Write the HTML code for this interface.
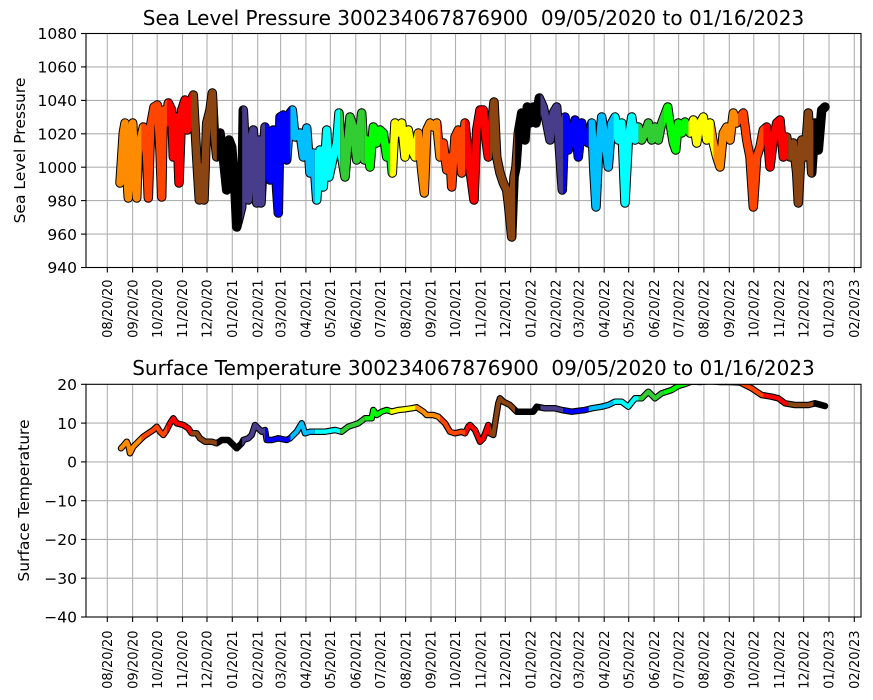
<!DOCTYPE html>
<html>
<head>
<meta charset="utf-8">
<style>
html,body{margin:0;padding:0;background:#fff;}
svg{display:block;}
text{font-family:"DejaVu Sans","Liberation Sans",sans-serif;fill:#000;}
.tt{font-size:20px;white-space:pre;}
.yl{font-size:15.5px;}
.yt{font-size:15.5px;}
.xt{font-size:13px;}
</style>
</head>
<body>
<svg width="873" height="700" viewBox="0 0 873 700" xmlns="http://www.w3.org/2000/svg">
<rect x="0" y="0" width="873" height="700" fill="#fff"/>
<defs>
<clipPath id="axT"><rect x="86" y="33.5" width="775" height="234"/></clipPath>
<clipPath id="axB"><rect x="86" y="384.3" width="775" height="232.7"/></clipPath>
<clipPath id="cDO"><rect x="0" y="0" width="141.6" height="700"/><rect x="415.4" y="0" width="24.6" height="700"/><rect x="713.7" y="0" width="24.6" height="700"/></clipPath>
<clipPath id="cOR"><rect x="141.6" y="0" width="25.4" height="700"/><rect x="440" y="0" width="25.3" height="700"/><rect x="738.3" y="0" width="25.3" height="700"/></clipPath>
<clipPath id="cR"><rect x="167" y="0" width="24.5" height="700"/><rect x="465.3" y="0" width="24.5" height="700"/><rect x="763.6" y="0" width="24.5" height="700"/></clipPath>
<clipPath id="cBR"><rect x="191.5" y="0" width="25.3" height="700"/><rect x="489.8" y="0" width="25.3" height="700"/><rect x="788.1" y="0" width="25.3" height="700"/></clipPath>
<clipPath id="cDS"><rect x="242.2" y="0" width="22.8" height="700"/><rect x="540.5" y="0" width="22.8" height="700"/></clipPath>
<clipPath id="cB"><rect x="265" y="0" width="25.4" height="700"/><rect x="563.3" y="0" width="25.4" height="700"/></clipPath>
<clipPath id="cDSB"><rect x="290.4" y="0" width="24.5" height="700"/><rect x="588.7" y="0" width="24.5" height="700"/></clipPath>
<clipPath id="cC"><rect x="314.9" y="0" width="25.3" height="700"/><rect x="613.2" y="0" width="25.4" height="700"/></clipPath>
<clipPath id="cLG"><rect x="340.2" y="0" width="24.6" height="700"/><rect x="638.6" y="0" width="24.5" height="700"/></clipPath>
<clipPath id="cL"><rect x="364.8" y="0" width="25.3" height="700"/><rect x="663.1" y="0" width="25.3" height="700"/></clipPath>
<clipPath id="cY"><rect x="390.1" y="0" width="25.3" height="700"/><rect x="688.4" y="0" width="25.3" height="700"/></clipPath>

<path id="pT" fill="none" stroke-linejoin="round" stroke-linecap="round" d="M120,183 L123.3,133 125,123 126.7,173 128.3,198 130.7,157 132.7,123 134.3,157 136.7,198 138.3,150 141,137
143.3,127 146.7,157 148.3,198 150.7,125 154,107 157.3,105 160,150 161.7,197 163.3,110 166,123
168.3,103 171.7,110 173.3,157 176.7,117 179,183 181.7,110 185,100 187.3,130 190,103
193.3,95 196.7,157 199.3,200 201.7,167 204,200 206.7,123 210,110 212.3,93 214.3,133 216.7,157
220,133 223.3,157 226.7,190 229,140 231.7,147 235,190 236.7,227 239.3,217 241.7,207
243.3,110 245.7,157 248.3,200 250.7,140 253.3,130 256.7,203 259,140 261,203 265,127
270,180 273.3,130 276.7,190 278.3,213 280,117 283.3,115 286.7,160 290,113
292.3,110 295,137 300,133 303.3,157 306.7,128 310,173 313.3,153
316.7,200 320,150 323.3,187 326.7,130 329,177 333.3,157 336.7,143 339,113
341.7,157 345,177 350,117 353.3,127 356.7,160 361.7,113 364.3,160
366.7,140 370,167 373.3,127 376.7,143 380,130 383.3,133 386.7,157 390,147
392.3,173 395,123 398.3,133 401.7,123 405,157 408.3,130 411.7,150
415,157 418.3,133 421.7,170 424.3,193 426.7,130 430,123 433.3,127 436.7,123 440,157
443.3,143 446.7,170 450,157 451.7,187 455,137 458.3,130 461.7,173
465,123 468.3,157 471.7,183 474,200 476.7,130 480,110 483.3,110 486,140
488.3,157 491.7,123 494,102 496.7,157 500,173 503.3,183 506.7,190 508.3,203 511.7,237 514,177
516,167 518.3,133 521.7,113 525,140 527.3,107 530,123 533.3,107 536,123
539.3,98 543.3,107 546.7,123 550,140 553.3,113 556.7,107 560,157 562.3,190
565,117 568.3,150 571.7,133 575,120 578.3,157 581.7,123 585,140 588.3,143
591.7,123 594,173 596,207 598.3,157 601.7,117 605,140 608.3,167
611.7,123 615,117 618.3,140 621.7,123 625,203 628.3,140 631.7,117
635,140 638.3,127 641.7,140 645,133 648.3,123 651.7,140 655,127 658.3,140 661.7,123
667.7,107 670,123 673.3,143 675.7,150 678.3,123 681.7,133 685,122
690,133 693.3,120 696.7,143 700,123 703.3,117 706.7,140 710,123
713.3,143 716.7,157 720,167 723.3,133 726.7,127 730,140 733.3,113 736.7,123
740,117 743.3,113 746.7,140 750,157 753.3,207 756.7,157 760,147
763.3,130 766.7,127 770,167 773.3,140 776.7,123 780,120 783.3,157
786.7,137 790,157 793.3,143 796.7,173 798.3,203 801.7,140 805,157 808.3,113 811.7,173
815,123 818.3,150 821.7,110 825,107"/>

<path id="pB" fill="none" stroke-linejoin="round" stroke-linecap="round" d="M121,448.3 L124,445 126.7,441.7 128.3,445 130,453.3 133.3,446.7 138.3,441.7 143.3,436.7 148.3,433.3 153.3,430 156.7,426.7 160,431.7 163.3,435 166.7,430 170,423.3 173.3,418.3 176.7,423.3 183.3,425 188.3,428.3 191.7,433.3 196.7,433.3 200,438.3 205,441.7 211.7,441.7 216.7,443.3 221.7,440 228.3,440 231.7,443.3 236.7,448.3 241.7,443.3 243.3,440 248.3,438.3 251.7,435 255,425 258.3,428.3 261.7,431.7 265,430 266.7,440 271.7,440 278.3,438.3 286.7,440 290,438.3 296.7,431.7 301.7,423.3 305,433.3 310,431.7 315,431.7 325,431.7 335,430 341.7,431.7 348.3,426.7 358.3,423.3 365,418.3 371.7,418.3 373.3,410 376.7,415 381.7,411.7 386.7,410 391.7,411.7 398.3,410 405,409.3 411.7,408.3 416.7,407.3 423.3,411.7 426.7,415 433.3,415 438.3,416.7 445,423.3 450,431.7 455,433.3 461.7,431.7 465,433.3 468.3,426.7 470,425 475,430 480,441.7 483.3,438.3 488.3,425 490,433.3 493.3,435 496.7,413.3 498.3,403.3 500,398.3 503.3,401.7 506.7,403.3 510,405 513.3,408.3 516.7,411.7 525,411.7 533.3,411.7 536.7,406.7 545,408.3 555,408.3 561.7,410 571.7,411.7 585,410 591.7,408.3 601.7,406.7 608.3,405 615,401.7 621.7,401.7 628.3,406.7 635,398.3 641.7,398.3 648.3,391.7 655,398.3 661.7,393.3 671.7,390 678.3,386 685,384 692,381.5 700,382 710,381 720,382 730,382 740,382.5 751.7,388.3 761.7,395 771.7,396.7 778.3,398.3 785,403.3 795,405 808.3,405 815,403.3 825,406"/>
</defs>

<!-- ============ TOP AXES ============ -->
<g stroke="#b0b0b0" stroke-width="1.1">
<line x1="107.3" y1="33.5" x2="107.3" y2="267.5"/><line x1="132.6" y1="33.5" x2="132.6" y2="267.5"/><line x1="157.2" y1="33.5" x2="157.2" y2="267.5"/><line x1="182.5" y1="33.5" x2="182.5" y2="267.5"/><line x1="207" y1="33.5" x2="207" y2="267.5"/><line x1="232.3" y1="33.5" x2="232.3" y2="267.5"/><line x1="257.7" y1="33.5" x2="257.7" y2="267.5"/><line x1="280.6" y1="33.5" x2="280.6" y2="267.5"/><line x1="305.9" y1="33.5" x2="305.9" y2="267.5"/><line x1="330.4" y1="33.5" x2="330.4" y2="267.5"/><line x1="355.8" y1="33.5" x2="355.8" y2="267.5"/><line x1="380.3" y1="33.5" x2="380.3" y2="267.5"/><line x1="405.6" y1="33.5" x2="405.6" y2="267.5"/><line x1="431" y1="33.5" x2="431" y2="267.5"/><line x1="455.5" y1="33.5" x2="455.5" y2="267.5"/><line x1="480.8" y1="33.5" x2="480.8" y2="267.5"/><line x1="505.3" y1="33.5" x2="505.3" y2="267.5"/><line x1="530.7" y1="33.5" x2="530.7" y2="267.5"/><line x1="556" y1="33.5" x2="556" y2="267.5"/><line x1="578.9" y1="33.5" x2="578.9" y2="267.5"/><line x1="604.2" y1="33.5" x2="604.2" y2="267.5"/><line x1="628.7" y1="33.5" x2="628.7" y2="267.5"/><line x1="654.1" y1="33.5" x2="654.1" y2="267.5"/><line x1="678.6" y1="33.5" x2="678.6" y2="267.5"/><line x1="703.9" y1="33.5" x2="703.9" y2="267.5"/><line x1="729.3" y1="33.5" x2="729.3" y2="267.5"/><line x1="753.8" y1="33.5" x2="753.8" y2="267.5"/><line x1="779.1" y1="33.5" x2="779.1" y2="267.5"/><line x1="803.6" y1="33.5" x2="803.6" y2="267.5"/><line x1="829" y1="33.5" x2="829" y2="267.5"/><line x1="854.3" y1="33.5" x2="854.3" y2="267.5"/>
<line x1="86" y1="66.9" x2="861" y2="66.9"/><line x1="86" y1="100.4" x2="861" y2="100.4"/><line x1="86" y1="133.8" x2="861" y2="133.8"/><line x1="86" y1="167.2" x2="861" y2="167.2"/><line x1="86" y1="200.6" x2="861" y2="200.6"/><line x1="86" y1="234.1" x2="861" y2="234.1"/>
</g>

<g clip-path="url(#axT)">
<use href="#pT" stroke="#000" stroke-width="9.5"/>
<use href="#pT" stroke="#FF8C00" stroke-width="7.5" clip-path="url(#cDO)"/>
<use href="#pT" stroke="#FF4500" stroke-width="7.5" clip-path="url(#cOR)"/>
<use href="#pT" stroke="#FF0000" stroke-width="7.5" clip-path="url(#cR)"/>
<use href="#pT" stroke="#8B4513" stroke-width="7.5" clip-path="url(#cBR)"/>
<use href="#pT" stroke="#483D8B" stroke-width="7.5" clip-path="url(#cDS)"/>
<use href="#pT" stroke="#0000FF" stroke-width="7.5" clip-path="url(#cB)"/>
<use href="#pT" stroke="#00BFFF" stroke-width="7.5" clip-path="url(#cDSB)"/>
<use href="#pT" stroke="#00FFFF" stroke-width="7.5" clip-path="url(#cC)"/>
<use href="#pT" stroke="#32CD32" stroke-width="7.5" clip-path="url(#cLG)"/>
<use href="#pT" stroke="#00FF00" stroke-width="7.5" clip-path="url(#cL)"/>
<use href="#pT" stroke="#FFFF00" stroke-width="7.5" clip-path="url(#cY)"/>
</g>

<rect x="86" y="33.5" width="775" height="234" fill="none" stroke="#000" stroke-width="1.1"/>
<g stroke="#000" stroke-width="1.1">
<line x1="81" y1="33.5" x2="86" y2="33.5"/><line x1="81" y1="66.9" x2="86" y2="66.9"/><line x1="81" y1="100.4" x2="86" y2="100.4"/><line x1="81" y1="133.8" x2="86" y2="133.8"/><line x1="81" y1="167.2" x2="86" y2="167.2"/><line x1="81" y1="200.6" x2="86" y2="200.6"/><line x1="81" y1="234.1" x2="86" y2="234.1"/><line x1="81" y1="267.5" x2="86" y2="267.5"/>
<line x1="107.3" y1="267.5" x2="107.3" y2="272.5"/><line x1="132.6" y1="267.5" x2="132.6" y2="272.5"/><line x1="157.2" y1="267.5" x2="157.2" y2="272.5"/><line x1="182.5" y1="267.5" x2="182.5" y2="272.5"/><line x1="207" y1="267.5" x2="207" y2="272.5"/><line x1="232.3" y1="267.5" x2="232.3" y2="272.5"/><line x1="257.7" y1="267.5" x2="257.7" y2="272.5"/><line x1="280.6" y1="267.5" x2="280.6" y2="272.5"/><line x1="305.9" y1="267.5" x2="305.9" y2="272.5"/><line x1="330.4" y1="267.5" x2="330.4" y2="272.5"/><line x1="355.8" y1="267.5" x2="355.8" y2="272.5"/><line x1="380.3" y1="267.5" x2="380.3" y2="272.5"/><line x1="405.6" y1="267.5" x2="405.6" y2="272.5"/><line x1="431" y1="267.5" x2="431" y2="272.5"/><line x1="455.5" y1="267.5" x2="455.5" y2="272.5"/><line x1="480.8" y1="267.5" x2="480.8" y2="272.5"/><line x1="505.3" y1="267.5" x2="505.3" y2="272.5"/><line x1="530.7" y1="267.5" x2="530.7" y2="272.5"/><line x1="556" y1="267.5" x2="556" y2="272.5"/><line x1="578.9" y1="267.5" x2="578.9" y2="272.5"/><line x1="604.2" y1="267.5" x2="604.2" y2="272.5"/><line x1="628.7" y1="267.5" x2="628.7" y2="272.5"/><line x1="654.1" y1="267.5" x2="654.1" y2="272.5"/><line x1="678.6" y1="267.5" x2="678.6" y2="272.5"/><line x1="703.9" y1="267.5" x2="703.9" y2="272.5"/><line x1="729.3" y1="267.5" x2="729.3" y2="272.5"/><line x1="753.8" y1="267.5" x2="753.8" y2="272.5"/><line x1="779.1" y1="267.5" x2="779.1" y2="272.5"/><line x1="803.6" y1="267.5" x2="803.6" y2="272.5"/><line x1="829" y1="267.5" x2="829" y2="272.5"/><line x1="854.3" y1="267.5" x2="854.3" y2="272.5"/>
</g>

<text class="tt" x="473.5" y="25" text-anchor="middle">Sea Level Pressure 300234067876900  09/05/2020 to 01/16/2023</text>
<text class="yl" transform="translate(25,150.5) rotate(-90)" text-anchor="middle">Sea Level Pressure</text>
<g class="yt" text-anchor="end">
<text x="77" y="39.2">1080</text><text x="77" y="72.6">1060</text><text x="77" y="106.1">1040</text><text x="77" y="139.5">1020</text><text x="77" y="172.9">1000</text><text x="77" y="206.3">980</text><text x="77" y="239.8">960</text><text x="77" y="273.2">940</text>
</g>
<g class="xt" text-anchor="end">
<text transform="translate(112,279.5) rotate(-90)">08/20/20</text>
<text transform="translate(137.3,279.5) rotate(-90)">09/20/20</text>
<text transform="translate(161.9,279.5) rotate(-90)">10/20/20</text>
<text transform="translate(187.2,279.5) rotate(-90)">11/20/20</text>
<text transform="translate(211.7,279.5) rotate(-90)">12/20/20</text>
<text transform="translate(237,279.5) rotate(-90)">01/20/21</text>
<text transform="translate(262.4,279.5) rotate(-90)">02/20/21</text>
<text transform="translate(285.3,279.5) rotate(-90)">03/20/21</text>
<text transform="translate(310.6,279.5) rotate(-90)">04/20/21</text>
<text transform="translate(335.1,279.5) rotate(-90)">05/20/21</text>
<text transform="translate(360.5,279.5) rotate(-90)">06/20/21</text>
<text transform="translate(385,279.5) rotate(-90)">07/20/21</text>
<text transform="translate(410.3,279.5) rotate(-90)">08/20/21</text>
<text transform="translate(435.7,279.5) rotate(-90)">09/20/21</text>
<text transform="translate(460.2,279.5) rotate(-90)">10/20/21</text>
<text transform="translate(485.5,279.5) rotate(-90)">11/20/21</text>
<text transform="translate(510,279.5) rotate(-90)">12/20/21</text>
<text transform="translate(535.4,279.5) rotate(-90)">01/20/22</text>
<text transform="translate(560.7,279.5) rotate(-90)">02/20/22</text>
<text transform="translate(583.6,279.5) rotate(-90)">03/20/22</text>
<text transform="translate(608.9,279.5) rotate(-90)">04/20/22</text>
<text transform="translate(633.4,279.5) rotate(-90)">05/20/22</text>
<text transform="translate(658.8,279.5) rotate(-90)">06/20/22</text>
<text transform="translate(683.3,279.5) rotate(-90)">07/20/22</text>
<text transform="translate(708.6,279.5) rotate(-90)">08/20/22</text>
<text transform="translate(734,279.5) rotate(-90)">09/20/22</text>
<text transform="translate(758.5,279.5) rotate(-90)">10/20/22</text>
<text transform="translate(783.8,279.5) rotate(-90)">11/20/22</text>
<text transform="translate(808.3,279.5) rotate(-90)">12/20/22</text>
<text transform="translate(833.7,279.5) rotate(-90)">01/20/23</text>
<text transform="translate(859,279.5) rotate(-90)">02/20/23</text>
</g>

<!-- ============ BOTTOM AXES ============ -->
<g stroke="#b0b0b0" stroke-width="1.1">
<line x1="107.3" y1="384.3" x2="107.3" y2="617"/><line x1="132.6" y1="384.3" x2="132.6" y2="617"/><line x1="157.2" y1="384.3" x2="157.2" y2="617"/><line x1="182.5" y1="384.3" x2="182.5" y2="617"/><line x1="207" y1="384.3" x2="207" y2="617"/><line x1="232.3" y1="384.3" x2="232.3" y2="617"/><line x1="257.7" y1="384.3" x2="257.7" y2="617"/><line x1="280.6" y1="384.3" x2="280.6" y2="617"/><line x1="305.9" y1="384.3" x2="305.9" y2="617"/><line x1="330.4" y1="384.3" x2="330.4" y2="617"/><line x1="355.8" y1="384.3" x2="355.8" y2="617"/><line x1="380.3" y1="384.3" x2="380.3" y2="617"/><line x1="405.6" y1="384.3" x2="405.6" y2="617"/><line x1="431" y1="384.3" x2="431" y2="617"/><line x1="455.5" y1="384.3" x2="455.5" y2="617"/><line x1="480.8" y1="384.3" x2="480.8" y2="617"/><line x1="505.3" y1="384.3" x2="505.3" y2="617"/><line x1="530.7" y1="384.3" x2="530.7" y2="617"/><line x1="556" y1="384.3" x2="556" y2="617"/><line x1="578.9" y1="384.3" x2="578.9" y2="617"/><line x1="604.2" y1="384.3" x2="604.2" y2="617"/><line x1="628.7" y1="384.3" x2="628.7" y2="617"/><line x1="654.1" y1="384.3" x2="654.1" y2="617"/><line x1="678.6" y1="384.3" x2="678.6" y2="617"/><line x1="703.9" y1="384.3" x2="703.9" y2="617"/><line x1="729.3" y1="384.3" x2="729.3" y2="617"/><line x1="753.8" y1="384.3" x2="753.8" y2="617"/><line x1="779.1" y1="384.3" x2="779.1" y2="617"/><line x1="803.6" y1="384.3" x2="803.6" y2="617"/><line x1="829" y1="384.3" x2="829" y2="617"/><line x1="854.3" y1="384.3" x2="854.3" y2="617"/>
<line x1="86" y1="423.1" x2="861" y2="423.1"/><line x1="86" y1="461.9" x2="861" y2="461.9"/><line x1="86" y1="500.7" x2="861" y2="500.7"/><line x1="86" y1="539.4" x2="861" y2="539.4"/><line x1="86" y1="578.2" x2="861" y2="578.2"/>
</g>

<g clip-path="url(#axB)">
<use href="#pB" stroke="#000" stroke-width="6.5"/>
<use href="#pB" stroke="#FF8C00" stroke-width="4.3" clip-path="url(#cDO)"/>
<use href="#pB" stroke="#FF4500" stroke-width="4.3" clip-path="url(#cOR)"/>
<use href="#pB" stroke="#FF0000" stroke-width="4.3" clip-path="url(#cR)"/>
<use href="#pB" stroke="#8B4513" stroke-width="4.3" clip-path="url(#cBR)"/>
<use href="#pB" stroke="#483D8B" stroke-width="4.3" clip-path="url(#cDS)"/>
<use href="#pB" stroke="#0000FF" stroke-width="4.3" clip-path="url(#cB)"/>
<use href="#pB" stroke="#00BFFF" stroke-width="4.3" clip-path="url(#cDSB)"/>
<use href="#pB" stroke="#00FFFF" stroke-width="4.3" clip-path="url(#cC)"/>
<use href="#pB" stroke="#32CD32" stroke-width="4.3" clip-path="url(#cLG)"/>
<use href="#pB" stroke="#00FF00" stroke-width="4.3" clip-path="url(#cL)"/>
<use href="#pB" stroke="#FFFF00" stroke-width="4.3" clip-path="url(#cY)"/>
</g>

<rect x="86" y="384.3" width="775" height="232.7" fill="none" stroke="#000" stroke-width="1.1"/>
<g stroke="#000" stroke-width="1.1">
<line x1="81" y1="384.3" x2="86" y2="384.3"/><line x1="81" y1="423.1" x2="86" y2="423.1"/><line x1="81" y1="461.9" x2="86" y2="461.9"/><line x1="81" y1="500.7" x2="86" y2="500.7"/><line x1="81" y1="539.4" x2="86" y2="539.4"/><line x1="81" y1="578.2" x2="86" y2="578.2"/><line x1="81" y1="617" x2="86" y2="617"/>
<line x1="107.3" y1="617" x2="107.3" y2="622"/><line x1="132.6" y1="617" x2="132.6" y2="622"/><line x1="157.2" y1="617" x2="157.2" y2="622"/><line x1="182.5" y1="617" x2="182.5" y2="622"/><line x1="207" y1="617" x2="207" y2="622"/><line x1="232.3" y1="617" x2="232.3" y2="622"/><line x1="257.7" y1="617" x2="257.7" y2="622"/><line x1="280.6" y1="617" x2="280.6" y2="622"/><line x1="305.9" y1="617" x2="305.9" y2="622"/><line x1="330.4" y1="617" x2="330.4" y2="622"/><line x1="355.8" y1="617" x2="355.8" y2="622"/><line x1="380.3" y1="617" x2="380.3" y2="622"/><line x1="405.6" y1="617" x2="405.6" y2="622"/><line x1="431" y1="617" x2="431" y2="622"/><line x1="455.5" y1="617" x2="455.5" y2="622"/><line x1="480.8" y1="617" x2="480.8" y2="622"/><line x1="505.3" y1="617" x2="505.3" y2="622"/><line x1="530.7" y1="617" x2="530.7" y2="622"/><line x1="556" y1="617" x2="556" y2="622"/><line x1="578.9" y1="617" x2="578.9" y2="622"/><line x1="604.2" y1="617" x2="604.2" y2="622"/><line x1="628.7" y1="617" x2="628.7" y2="622"/><line x1="654.1" y1="617" x2="654.1" y2="622"/><line x1="678.6" y1="617" x2="678.6" y2="622"/><line x1="703.9" y1="617" x2="703.9" y2="622"/><line x1="729.3" y1="617" x2="729.3" y2="622"/><line x1="753.8" y1="617" x2="753.8" y2="622"/><line x1="779.1" y1="617" x2="779.1" y2="622"/><line x1="803.6" y1="617" x2="803.6" y2="622"/><line x1="829" y1="617" x2="829" y2="622"/><line x1="854.3" y1="617" x2="854.3" y2="622"/>
</g>

<text class="tt" x="473.5" y="375" text-anchor="middle">Surface Temperature 300234067876900  09/05/2020 to 01/16/2023</text>
<text class="yl" transform="translate(29,500.5) rotate(-90)" text-anchor="middle">Surface Temperature</text>
<g class="yt" text-anchor="end">
<text x="77" y="390">20</text><text x="77" y="428.8">10</text><text x="77" y="467.6">0</text><text x="77" y="506.4">−10</text><text x="77" y="545.1">−20</text><text x="77" y="583.9">−30</text><text x="77" y="622.7">−40</text>
</g>
<g class="xt" text-anchor="end">
<text transform="translate(112,630.5) rotate(-90)">08/20/20</text>
<text transform="translate(137.3,630.5) rotate(-90)">09/20/20</text>
<text transform="translate(161.9,630.5) rotate(-90)">10/20/20</text>
<text transform="translate(187.2,630.5) rotate(-90)">11/20/20</text>
<text transform="translate(211.7,630.5) rotate(-90)">12/20/20</text>
<text transform="translate(237,630.5) rotate(-90)">01/20/21</text>
<text transform="translate(262.4,630.5) rotate(-90)">02/20/21</text>
<text transform="translate(285.3,630.5) rotate(-90)">03/20/21</text>
<text transform="translate(310.6,630.5) rotate(-90)">04/20/21</text>
<text transform="translate(335.1,630.5) rotate(-90)">05/20/21</text>
<text transform="translate(360.5,630.5) rotate(-90)">06/20/21</text>
<text transform="translate(385,630.5) rotate(-90)">07/20/21</text>
<text transform="translate(410.3,630.5) rotate(-90)">08/20/21</text>
<text transform="translate(435.7,630.5) rotate(-90)">09/20/21</text>
<text transform="translate(460.2,630.5) rotate(-90)">10/20/21</text>
<text transform="translate(485.5,630.5) rotate(-90)">11/20/21</text>
<text transform="translate(510,630.5) rotate(-90)">12/20/21</text>
<text transform="translate(535.4,630.5) rotate(-90)">01/20/22</text>
<text transform="translate(560.7,630.5) rotate(-90)">02/20/22</text>
<text transform="translate(583.6,630.5) rotate(-90)">03/20/22</text>
<text transform="translate(608.9,630.5) rotate(-90)">04/20/22</text>
<text transform="translate(633.4,630.5) rotate(-90)">05/20/22</text>
<text transform="translate(658.8,630.5) rotate(-90)">06/20/22</text>
<text transform="translate(683.3,630.5) rotate(-90)">07/20/22</text>
<text transform="translate(708.6,630.5) rotate(-90)">08/20/22</text>
<text transform="translate(734,630.5) rotate(-90)">09/20/22</text>
<text transform="translate(758.5,630.5) rotate(-90)">10/20/22</text>
<text transform="translate(783.8,630.5) rotate(-90)">11/20/22</text>
<text transform="translate(808.3,630.5) rotate(-90)">12/20/22</text>
<text transform="translate(833.7,630.5) rotate(-90)">01/20/23</text>
<text transform="translate(859,630.5) rotate(-90)">02/20/23</text>
</g>
</svg>
</body>
</html>
